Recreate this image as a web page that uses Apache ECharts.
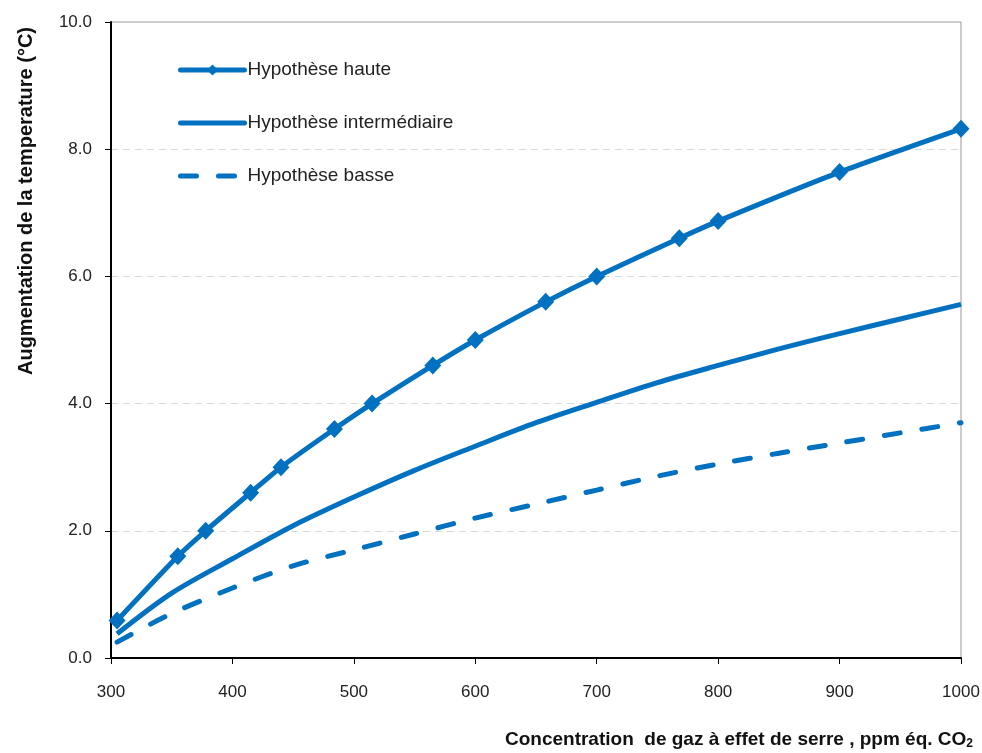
<!DOCTYPE html>
<html>
<head>
<meta charset="utf-8">
<script src="https://cdn.jsdelivr.net/npm/echarts@6/dist/echarts.min.js"></script>
<style>
  html, body { margin: 0; padding: 0; background: #fff; }
  #chart { width: 982px; height: 753px; }
</style>
</head>
<body>
<div id="chart"></div>
<script>
// Greenhouse gas concentration (ppm CO2-eq) vs. temperature increase (°C)
const highConc  = [305, 355, 378, 415, 440, 484, 515, 565, 600, 658, 700, 768, 800, 900, 1000];
const highTemp  = [0.59, 1.6, 2.0, 2.6, 3.0, 3.6, 4.0, 4.6, 5.0, 5.6, 6.0, 6.6, 6.87, 7.64, 8.32];

const midConc   = [305, 350, 400, 450, 500, 550, 600, 650, 700, 750, 800, 850, 900, 950, 1000];
const midTemp   = [0.38, 1.02, 1.56, 2.08, 2.53, 2.95, 3.33, 3.70, 4.02, 4.33, 4.60, 4.86, 5.10, 5.33, 5.56];

const lowConc   = [305, 350, 400, 450, 500, 550, 600, 650, 700, 750, 800, 850, 900, 950, 1000];
const lowTemp   = [0.25, 0.70, 1.10, 1.45, 1.70, 1.95, 2.20, 2.42, 2.64, 2.86, 3.05, 3.22, 3.38, 3.54, 3.70];

const seriesNames = ['Hypothèse haute', 'Hypothèse intermédiaire', 'Hypothèse basse'];
const xTitle = 'Concentration  de gaz à effet de serre , ppm éq. CO';
const yTitle = 'Augmentation de la temperature (°C)';

const BLUE = '#0070C0';
const FONT = '"Liberation Sans", Arial, sans-serif';
const LOW_DASH = [16, 22];

const pairs = (xs, ys) => xs.map((x, i) => [x, ys[i]]);

const chart = echarts.init(document.getElementById('chart'), null, { renderer: 'canvas' });

chart.setOption({
  animation: false,
  backgroundColor: '#fff',
  textStyle: { fontFamily: FONT },
  grid: {
    left: 111, right: 21, top: 22, bottom: 95,
    outerBoundsMode: 'none',
    containLabel: false,
    show: true, borderColor: '#9a9a9a', borderWidth: 1, backgroundColor: 'transparent'
  },
  legend: {
    orient: 'vertical',
    left: 178, top: 60,
    padding: 0,
    itemWidth: 64, itemHeight: 14,
    itemGap: 33,
    itemStyle: {},
    lineStyle: { width: 5, cap: 'round' },
    data: [
      { name: seriesNames[0] },
      { name: seriesNames[1], itemStyle: { opacity: 0 } },
      { name: seriesNames[2], itemStyle: { opacity: 0 }, lineStyle: { type: LOW_DASH, width: 5, cap: 'round' } }
    ],
    textStyle: { fontFamily: FONT, fontSize: 19, lineHeight: 20, color: '#222', padding: [0, 0, 0, -2] }
  },
  xAxis: {
    type: 'value',
    min: 300, max: 1000, interval: 100,
    name: '{t|' + xTitle + '}{s|2}',
    nameLocation: 'end',
    nameGap: 12,
    nameTextStyle: {
      align: 'right', verticalAlign: 'top', padding: [71, 0, 0, 0],
      rich: {
        t: { fontFamily: FONT, fontSize: 19, fontWeight: 'bold', color: '#111', lineHeight: 20, verticalAlign: 'bottom' },
        s: { fontFamily: FONT, fontSize: 12, fontWeight: 'bold', color: '#111', lineHeight: 20, verticalAlign: 'bottom', padding: [0, 0, -1, 0] }
      }
    },
    axisLine: { show: true, onZero: false, lineStyle: { color: '#000', width: 2 } },
    axisTick: { show: true, inside: false, length: 6, lineStyle: { color: '#000', width: 1 } },
    axisLabel: { fontFamily: FONT, fontSize: 17, color: '#222', margin: 26, formatter: v => String(v) },
    splitLine: { show: false }
  },
  yAxis: {
    type: 'value',
    min: 0, max: 10, interval: 2,
    axisLine: { show: true, lineStyle: { color: '#000', width: 2 } },
    axisTick: { show: true, inside: false, length: 6, lineStyle: { color: '#000', width: 1 } },
    axisLabel: {
      fontFamily: FONT, fontSize: 17, color: '#222', margin: 19,
      formatter: v => v.toFixed(1)
    },
    splitLine: {
      show: true, showMinLine: false, showMaxLine: false,
      lineStyle: { color: '#d9d9d9', width: 1, type: [7, 5] }
    }
  },
  graphic: [{
    type: 'text',
    x: 26, y: 201,
    rotation: Math.PI / 2,
    style: {
      text: yTitle,
      font: 'bold 20px ' + FONT,
      fill: '#111',
      align: 'center',
      verticalAlign: 'middle'
    }
  }],
  series: [
    {
      name: seriesNames[0],
      type: 'line',
      data: pairs(highConc, highTemp),
      smooth: 0.2,
      symbol: 'diamond',
      symbolSize: [17, 18],
      showAllSymbol: true,
      itemStyle: { color: BLUE },
      lineStyle: { color: BLUE, width: 5 },
      z: 4
    },
    {
      name: seriesNames[1],
      type: 'line',
      data: pairs(midConc, midTemp),
      smooth: 0.3,
      showSymbol: false,
      symbol: 'none',
      itemStyle: { color: BLUE },
      lineStyle: { color: BLUE, width: 5 },
      z: 3
    },
    {
      name: seriesNames[2],
      type: 'line',
      data: pairs(lowConc, lowTemp),
      smooth: 0.3,
      showSymbol: false,
      symbol: 'none',
      itemStyle: { color: BLUE },
      lineStyle: { color: BLUE, width: 5, type: LOW_DASH, cap: 'round' },
      z: 3
    }
  ]
});
</script>
</body>
</html>
